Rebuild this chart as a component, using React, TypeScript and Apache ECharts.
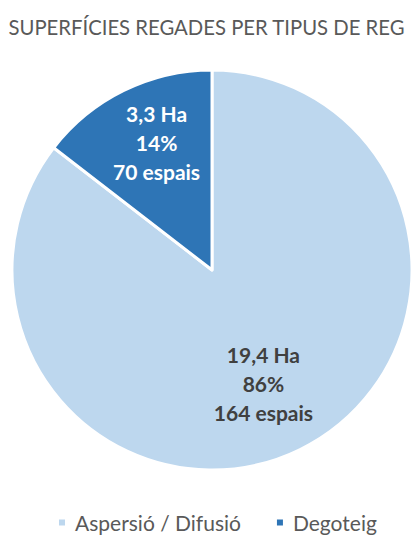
import React, { useEffect, useRef } from "react";
import * as echarts from "echarts";

const title = "SUPERFÍCIES REGADES PER TIPUS DE REG";
const categories = ["Aspersió / Difusió", "Degoteig"];
const hectares = [19.4, 3.3];
const percents = [86, 14];
const spaces = [164, 70];
const colors = ["#BDD7EE", "#2E75B6"];
const labelColors = ["#404040", "#FFFFFF"];
const labelOffsets = [[6, 21], [-10, -35]];

export default function App() {
  const ref = useRef<HTMLDivElement>(null);
  useEffect(() => {
    if (!ref.current) return;
    const chart = echarts.init(ref.current, null, { renderer: "svg" });
    const fontFamily = "Lato, 'Open Sans', sans-serif";
    chart.setOption({
      animation: false,
      title: {
        text: title,
        left: "center",
        top: 12,
        textStyle: { fontFamily, fontSize: 20.3, fontWeight: "normal", color: "#595959" },
      },
      legend: {
        top: 507,
        left: 52,
        icon: "rect",
        itemWidth: 8,
        itemHeight: 8,
        itemGap: 34,
        textStyle: { fontFamily, fontSize: 21, color: "#595959", padding: [0, 0, 0, 4] },
        data: categories,
      },
      series: [
        {
          type: "pie",
          center: [212, 270],
          radius: 200,
          startAngle: 90,
          clockwise: true,
          itemStyle: { borderColor: "#FFFFFF", borderWidth: 3 },
          labelLine: { show: false },
          emphasis: { disabled: true },
          data: categories.map((name, i) => ({
            name,
            value: hectares[i],
            itemStyle: { color: colors[i] },
            label: {
              show: true,
              position: "inside",
              offset: labelOffsets[i],
              formatter: `${String(hectares[i]).replace(".", ",")} Ha\n${percents[i]}%\n${spaces[i]} espais`,
              color: labelColors[i],
              fontFamily,
              fontSize: 21,
              fontWeight: "bold",
              lineHeight: 29,
              align: "center",
            },
          })),
        },
      ],
    });
    return () => chart.dispose();
  }, []);
  return (
    <div
      ref={ref}
      style={{ position: "absolute", left: 0, top: 0, width: 413, height: 538 }}
    />
  );
}
